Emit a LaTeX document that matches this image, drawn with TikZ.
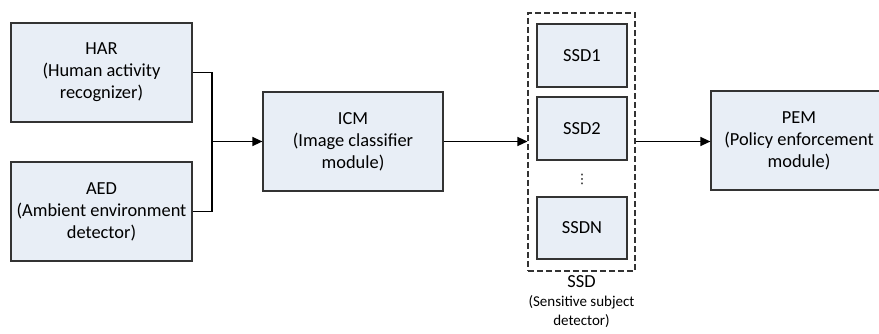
\documentclass[tikz,border=0pt]{standalone}
\usepackage{fontspec}
\setmainfont{Carlito}
\newfontfamily\symbolfont{DejaVu Sans}
\usetikzlibrary{arrows.meta}
\definecolor{boxfill}{HTML}{E8EEF6}
\definecolor{boxline}{HTML}{333333}
\begin{document}
\begin{tikzpicture}[x=1pt,y=-1pt,
  block/.style={draw=boxline,fill=boxfill,line width=1.2pt,align=center,
    inner sep=0pt,font=\fontsize{18.4}{22}\selectfont},
  link/.style={line width=1.3pt,draw=black},
  arr/.style={link,-{Triangle[length=10pt,width=9pt]}}]
\clip (0,0) rectangle (879,334);
\useasboundingbox (0,0) rectangle (879,334);

% input modules
\node[block,minimum width=181pt,minimum height=99pt] (har) at (101.5,72.5)
  {HAR\\(Human activity\\recognizer)};
\node[block,minimum width=181pt,minimum height=99pt] (aed) at (101.5,211.5)
  {AED\\(Ambient environment\\detector)};

% image classifier
\node[block,minimum width=180pt,minimum height=99pt] (icm) at (353,141.5)
  {ICM\\(Image classifier\\module)};

% sensitive subject detector group
\node[draw=boxline,line width=1.1pt,dash pattern=on 6pt off 3pt,
  minimum width=107pt,minimum height=258pt,inner sep=0pt] (ssd) at (581.5,142) {};
\node[block,minimum width=90pt,minimum height=63pt] (ssd1) at (582,55.5) {SSD1};
\node[block,minimum width=90pt,minimum height=63pt] (ssd2) at (582,128.5) {SSD2};
\node[font=\symbolfont\fontsize{13}{14}\selectfont,inner sep=0pt] (dots) at (582,179) {⋮};
\node[block,minimum width=90pt,minimum height=62pt] (ssdn) at (582,228) {SSDN};
\node[anchor=north,align=center,inner sep=0pt,
  font=\fontsize{15}{19}\selectfont] (ssdlabel) at (581.5,275)
  {{\fontsize{18.4}{19}\selectfont SSD}\\(Sensitive subject\\detector)};

% policy enforcement
\node[block,minimum width=176pt,minimum height=99pt] (pem) at (799,140.5)
  {PEM\\(Policy enforcement\\module)};

% connectors
\coordinate (join) at (212,141.5);
\draw[link] (har.east) -| (join);
\draw[link] (aed.east) -| (join);
\draw[arr] (join) -- (icm.west);
\draw[arr] (icm.east) -- (ssd.west |- icm.east);
\draw[arr] (ssd.east |- icm.east) -- (pem.west |- icm.east);
\end{tikzpicture}
\end{document}
